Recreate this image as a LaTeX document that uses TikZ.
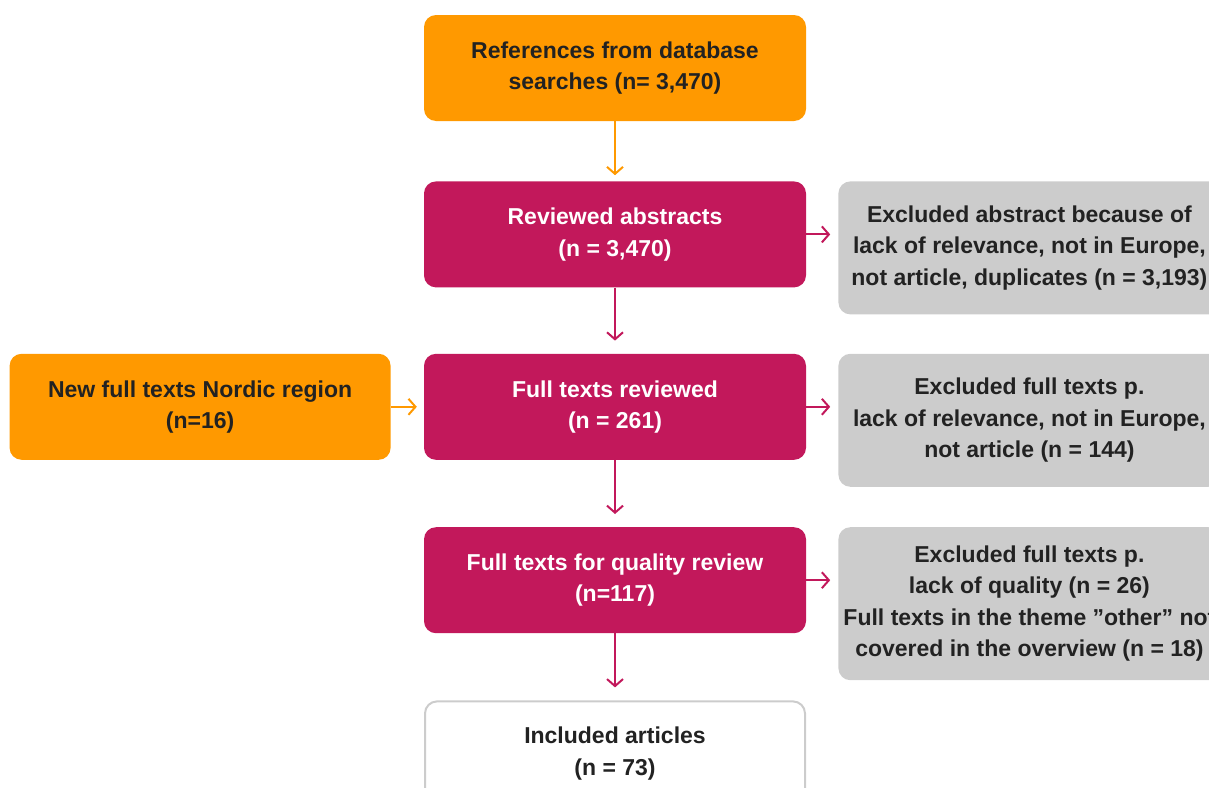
\documentclass[tikz,border=0pt]{standalone}
\usepackage{fontspec}
\setmainfont{Liberation Sans}
\usetikzlibrary{arrows.meta, positioning}

\definecolor{flowOrange}{HTML}{FF9900}
\definecolor{flowMagenta}{HTML}{C2185B}
\definecolor{flowGrey}{HTML}{CCCCCC}
\definecolor{flowText}{HTML}{222222}

\tikzset{
	basebox/.style={rounded corners=12pt, minimum width=382pt, align=center,
		font=\bfseries\fontsize{23}{31.5}\selectfont, inner sep=0pt},
	orangebox/.style={basebox, fill=flowOrange, text=flowText, minimum height=106pt},
	magentabox/.style={basebox, fill=flowMagenta, text=white, minimum height=106pt},
	greybox/.style={basebox, fill=flowGrey, text=flowText},
	whitebox/.style={basebox, draw=flowGrey, line width=2pt, fill=white, text=flowText,
		minimum width=380pt, minimum height=104pt},
	flowarrow/.style={-{Straight Barb[length=7pt, width=16pt]}, line width=2pt}
}

\begin{document}
\begin{tikzpicture}[x=1pt, y=-1pt]
	\useasboundingbox (0,0) rectangle (1209,787);
	\clip (0,0) rectangle (1209,787);

	% Main column
	\node[orangebox] (refs) at (615,68) {References from database\\searches (n= 3,470)};
	\node[magentabox, below=60pt of refs] (abstracts) {Reviewed abstracts\\(n = 3,470)};
	\node[magentabox, below=66pt of abstracts] (fulltexts) {Full texts reviewed\\(n = 261)};
	\node[magentabox, below=67pt of fulltexts] (quality) {Full texts for quality review\\(n=117)};
	\node[whitebox, below=67pt of quality] (included) {Included articles\\(n = 73)};

	% Side boxes
	\node[orangebox, left=33pt of fulltexts, minimum width=381pt] (nordic) {New full texts Nordic region\\(n=16)};
	\node[greybox, minimum height=133pt, right=32pt of abstracts.north east, anchor=north west] (exabstracts)
		{Excluded abstract because of\\lack of relevance, not in Europe,\\not article, duplicates (n = 3,193)};
	\node[greybox, minimum height=133pt, right=32pt of fulltexts.north east, anchor=north west] (exfulltexts)
		{Excluded full texts p.\\lack of relevance, not in Europe,\\not article (n = 144)};
	\node[greybox, minimum height=153pt, right=32pt of quality.north east, anchor=north west] (exquality)
		{Excluded full texts p.\\lack of quality (n = 26)\\Full texts in the theme ”other” not\\covered in the overview (n = 18)};

	% Vertical arrows
	\draw[flowarrow, flowOrange] (refs) -- ([yshift=6pt]abstracts.north);
	\draw[flowarrow, flowMagenta] (abstracts) -- ([yshift=13pt]fulltexts.north);
	\draw[flowarrow, flowMagenta] (fulltexts) -- ([yshift=13pt]quality.north);
	\draw[flowarrow, flowMagenta] (quality) -- ([yshift=13pt]included.north);

	% Horizontal arrows
	\draw[flowarrow, flowOrange] (nordic) -- ([xshift=-7pt]fulltexts.west);
	\draw[flowarrow, flowMagenta] (abstracts.east) -- ([xshift=-8pt]abstracts.east -| exabstracts.west);
	\draw[flowarrow, flowMagenta] (fulltexts.east) -- ([xshift=-8pt]fulltexts.east -| exfulltexts.west);
	\draw[flowarrow, flowMagenta] (quality.east) -- ([xshift=-8pt]quality.east -| exquality.west);
\end{tikzpicture}
\end{document}
